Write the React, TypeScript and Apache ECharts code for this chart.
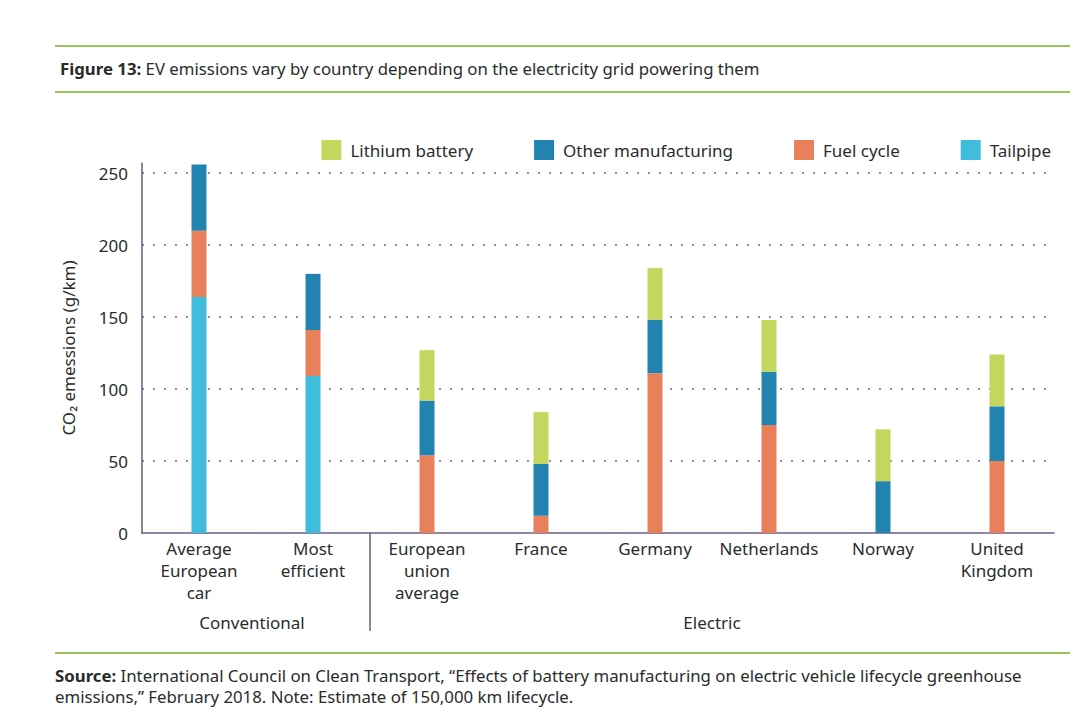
import React, { useEffect, useRef } from "react";
import * as echarts from "echarts";

const categories = [
  "Average\nEuropean\ncar",
  "Most\nefficient",
  "European\nunion\naverage",
  "France",
  "Germany",
  "Netherlands",
  "Norway",
  "United\nKingdom",
];
const tailpipe = [164, 109, 0, 0, 0, 0, 0, 0];
const fuelCycle = [46, 32, 54, 12, 111, 75, 0, 50];
const otherManufacturing = [46, 39, 38, 36, 37, 37, 36, 38];
const lithiumBattery = [0, 0, 35, 36, 36, 36, 36, 36];
const yTicks = [0, 50, 100, 150, 200, 250];
const groups = [
  { name: "Conventional", from: 0, to: 1 },
  { name: "Electric", from: 2, to: 7 },
];

const FONT = "'Noto Sans', 'Open Sans', sans-serif";
const TXT = "#2b2b2b";
const GREEN = "#9cc45c";

export default function App() {
  const ref = useRef<HTMLDivElement>(null);
  useEffect(() => {
    if (!ref.current) return;
    const chart = echarts.init(ref.current, null, { renderer: "svg" });
    const mk = (name: string, data: number[], color: string) => ({
      name,
      type: "bar",
      stack: "total",
      data,
      barWidth: 15,
      itemStyle: { color },
    });
    chart.setOption({
      animation: false,
      textStyle: { fontFamily: FONT },
      title: {
        left: 55,
        top: 55,
        text: "{b|Figure 13:} EV emissions vary by country depending on the electricity grid powering them",
        textStyle: {
          fontSize: 16.8,
          fontWeight: "normal",
          color: TXT,
          fontFamily: FONT,
          rich: { b: { fontWeight: "bold", fontSize: 16.8, color: TXT, fontFamily: FONT } },
        },
      },
      legend: {
        top: 135,
        right: 26,
        itemWidth: 20,
        itemHeight: 20,
        itemGap: 61,
        icon: "rect",
        data: ["Lithium battery", "Other manufacturing", "Fuel cycle", "Tailpipe"],
        textStyle: { fontSize: 17, color: TXT, fontFamily: FONT, padding: [0, 0, 0, 4] },
      },
      grid: { left: 142, right: 28, top: 163, bottom: 179, containLabel: false },
      xAxis: {
        type: "category",
        data: categories,
        axisLine: { lineStyle: { color: "#6a5d86", width: 1.5 } },
        axisTick: { show: false },
        axisLabel: { fontSize: 17, lineHeight: 22, color: TXT, margin: 4, interval: 0, fontFamily: FONT },
      },
      yAxis: {
        type: "value",
        min: 0,
        max: 257,
        interval: 50,
        name: "CO\u2082 emessions (g/km)",
        nameLocation: "middle",
        nameGap: 65,
        nameTextStyle: { fontSize: 17, color: TXT, fontFamily: FONT },
        axisLine: { show: true, lineStyle: { color: "#6a5d86", width: 1.5 } },
        axisTick: { show: false },
        axisLabel: {
          fontSize: 17,
          color: TXT,
          margin: 14,
          showMaxLabel: false,
          fontFamily: FONT,
          formatter: (v: number) => (yTicks.includes(v) ? String(v) : ""),
        },
        splitLine: {
          show: true,
          showMinLine: false,
          showMaxLine: false,
          lineStyle: { color: "#6f6892", type: [2, 9], width: 1.5 },
        },
      },
      series: [
        mk("Tailpipe", tailpipe, "#40bcdc"),
        mk("Fuel cycle", fuelCycle, "#e9805c"),
        mk("Other manufacturing", otherManufacturing, "#2383b0"),
        mk("Lithium battery", lithiumBattery, "#c4d65e"),
      ],
    });

    const px = (i: number) => chart.convertToPixel({ xAxisIndex: 0 }, i) as number;
    const y0 = chart.convertToPixel({ yAxisIndex: 0 }, 0) as number;
    const graphics: any[] = [
      { type: "line", shape: { x1: 55, y1: 46, x2: 1070, y2: 46 }, style: { stroke: GREEN, lineWidth: 2 } },
      { type: "line", shape: { x1: 55, y1: 92, x2: 1070, y2: 92 }, style: { stroke: GREEN, lineWidth: 2 } },
      { type: "line", shape: { x1: 55, y1: 653, x2: 1070, y2: 653 }, style: { stroke: GREEN, lineWidth: 2 } },
      {
        type: "text",
        left: 55,
        top: 665,
        style: {
          text: "{b|Source:} International Council on Clean Transport, \u201cEffects of battery manufacturing on electric vehicle lifecycle greenhouse\nemissions,\u201d February 2018. Note: Estimate of 150,000 km lifecycle.",
          font: `16.8px ${FONT}`,
          fill: TXT,
          lineHeight: 21,
          rich: { b: { fontWeight: "bold", fontSize: 16.8, fill: TXT, fontFamily: FONT, lineHeight: 21 } },
        },
      },
    ];
    const divX = (px(1) + px(2)) / 2;
    graphics.push({
      type: "line",
      shape: { x1: divX, y1: y0, x2: divX, y2: y0 + 98 },
      style: { stroke: "#6a5d86", lineWidth: 1.5 },
    });
    groups.forEach((g) => {
      graphics.push({
        type: "text",
        x: (px(g.from) + px(g.to)) / 2 - (g.from === 0 ? 4 : 0),
        y: 622,
        style: { text: g.name, font: `17px ${FONT}`, fill: TXT, textAlign: "center", textVerticalAlign: "middle" },
      });
    });
    chart.setOption({ graphic: graphics });
    return () => chart.dispose();
  }, []);
  return (
    <div
      ref={ref}
      style={{ position: "fixed", left: 0, top: 0, width: 1082, height: 712, background: "#fff" }}
    />
  );
}
